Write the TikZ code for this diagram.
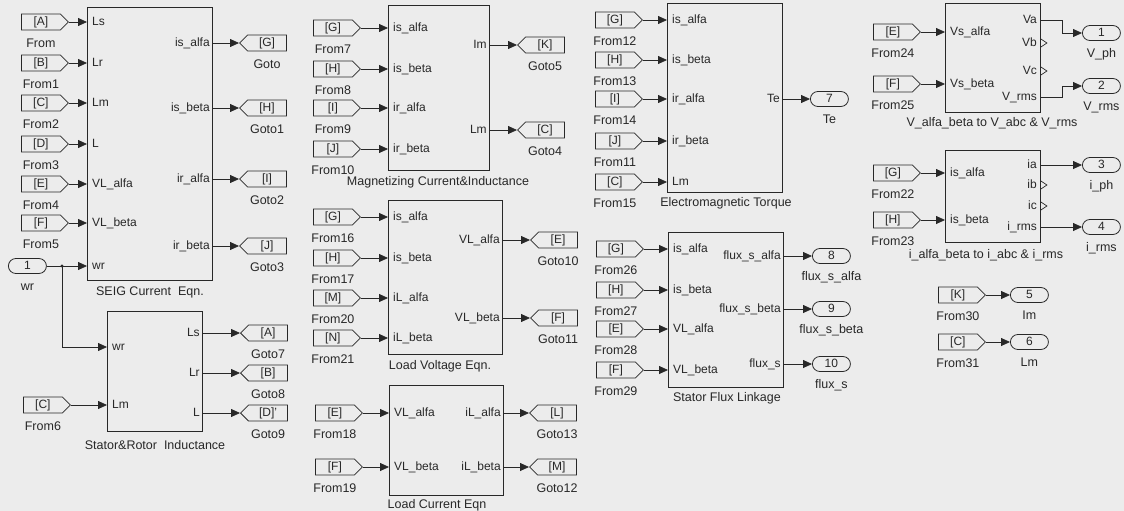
\documentclass[tikz,border=0pt]{standalone}
\usepackage{fontspec}
\setmainfont{Liberation Sans}
\usetikzlibrary{arrows.meta,shapes.symbols,shapes.misc}
\definecolor{bgcol}{RGB}{236,236,236}
\definecolor{ink}{RGB}{40,40,40}
\tikzset{
  txt/.style={font=\fontsize{12}{14}\selectfont, text=ink, inner sep=0pt, text height=8.5pt, text depth=2pt},
  lbl/.style={txt, font=\fontsize{12.5}{14}\selectfont},
  pin/.style={txt, anchor=west},
  pout/.style={txt, anchor=east},
  blk/.style={draw=ink, line width=0.9pt, anchor=north west, inner sep=0pt},
  frm/.style={signal, signal to=east, draw=ink, line width=0.8pt, txt, inner sep=1pt,
    minimum width=47pt, minimum height=16pt, anchor=west, label={[lbl, yshift=-8pt]below:#1}},
  gto/.style={signal, signal to=west, draw=ink, line width=0.8pt, txt, inner sep=1pt,
    minimum width=47pt, minimum height=16pt, anchor=west, label={[lbl, yshift=-8pt]below:#1}},
  oport/.style={rounded rectangle, draw=ink, line width=0.8pt, txt, inner sep=1pt,
    minimum width=40pt, minimum height=15pt, anchor=west, label={[lbl, yshift=-8pt]below:#1}},
  sig/.style={draw=ink, line width=0.8pt, -{Triangle[length=9pt,width=8pt]}},
  nc/.style={draw=ink, line width=0.7pt}
}
\begin{document}
\begin{tikzpicture}[x=1pt,y=-1pt]
  \fill[bgcol] (0,0) rectangle (1124,511);
  \useasboundingbox (0,0) rectangle (1124,511);

  % SEIG current equations
  \node[blk, minimum width=125pt, minimum height=273pt] (seig) at (87,7) {};
  \node[lbl] at (150,292) {SEIG Current\ \ Eqn.};
  \foreach \nm/\lb/\tg/\y/\pn in {fr0/From/A/22/Ls, fr1/From1/B/63/Lr, fr2/From2/C/103/Lm,
      fr3/From3/D/144/L, fr4/From4/E/184/VL\_alfa, fr5/From5/F/223/VL\_beta}{
    \node[frm=\lb] (\nm) at (21,\y) {[\tg]};
    \node[pin] at ([xshift=5pt]seig.west |- \nm) {\pn};
    \draw[sig] (\nm.east) -- (\nm.east -| seig.west);
  }
  \foreach \nm/\lb/\tg/\y/\pn in {gt0/Goto/G/43/is\_alfa, gt1/Goto1/H/108/is\_beta,
      gt2/Goto2/I/179/ir\_alfa, gt3/Goto3/J/246/ir\_beta}{
    \node[gto=\lb] (\nm) at (239,\y) {[\tg]};
    \node[pout] at ([xshift=-3pt]seig.east |- \nm) {\pn};
    \draw[sig] (\nm.west -| seig.east) -- (\nm.west);
  }
  \node[oport=wr] (ip1) at (8,266) {1};
  \node[pin] at ([xshift=5pt]seig.west |- ip1) {wr};
  \draw[sig] (ip1.east) -- (ip1.east -| seig.west);
  \coordinate (jwr) at (62,266);
  \fill[ink] (jwr) circle (1.6pt);

  % stator and rotor inductance
  \node[blk, minimum width=95pt, minimum height=120pt] (sr) at (107,311) {};
  \node[lbl] at (155,446) {Stator\&Rotor\ \ Inductance};
  \node[pin] (srwr) at (112,347) {wr};
  \node[pin] (srlm) at (112,405) {Lm};
  \node[frm=From6] (fr6) at (23,405) {[C]};
  \draw[sig] (fr6.east) -- (srlm.west -| sr.west);
  \draw[sig] (jwr) |- (srwr.west -| sr.west);
  \foreach \nm/\lb/\tg/\y/\pn in {gt7/Goto7/{[A]}/333/Ls, gt8/Goto8/{[B]}/373/Lr, gt9/Goto9/{[D]'}/413/L}{
    \node[gto=\lb] (\nm) at (240,\y) {\tg};
    \node[pout] at ([xshift=-3pt]sr.east |- \nm) {\pn};
    \draw[sig] (\nm.west -| sr.east) -- (\nm.west);
  }

  % magnetizing current and inductance
  \node[blk, minimum width=101pt, minimum height=165pt] (mag) at (388,5) {};
  \node[lbl] at (438,182) {Magnetizing Current\&Inductance};
  \foreach \nm/\lb/\tg/\y/\pn in {fr7/From7/G/28/is\_alfa, fr8/From8/H/69/is\_beta,
      fr9/From9/I/108/ir\_alfa, fr10/From10/J/149/ir\_beta}{
    \node[frm=\lb] (\nm) at (313,\y) {[\tg]};
    \node[pin] at ([xshift=5pt]mag.west |- \nm) {\pn};
    \draw[sig] (\nm.east) -- (\nm.east -| mag.west);
  }
  \foreach \nm/\lb/\tg/\y/\pn in {gt5/Goto5/K/45/Im, gt4/Goto4/C/130/Lm}{
    \node[gto=\lb] (\nm) at (517,\y) {[\tg]};
    \node[pout] at ([xshift=-3pt]mag.east |- \nm) {\pn};
    \draw[sig] (\nm.west -| mag.east) -- (\nm.west);
  }

  % load voltage
  \node[blk, minimum width=114pt, minimum height=154pt] (lv) at (388,200) {};
  \node[lbl] at (440,366) {Load Voltage Eqn.};
  \foreach \nm/\lb/\tg/\y/\pn in {fr16/From16/G/217/is\_alfa, fr17/From17/H/258/is\_beta,
      fr20/From20/M/298/iL\_alfa, fr21/From21/N/338/iL\_beta}{
    \node[frm=\lb] (\nm) at (313,\y) {[\tg]};
    \node[pin] at ([xshift=5pt]lv.west |- \nm) {\pn};
    \draw[sig] (\nm.east) -- (\nm.east -| lv.west);
  }
  \foreach \nm/\lb/\tg/\y/\pn in {gt10/Goto10/E/240/VL\_alfa, gt11/Goto11/F/318/VL\_beta}{
    \node[gto=\lb] (\nm) at (530,\y) {[\tg]};
    \node[pout] at ([xshift=-3pt]lv.east |- \nm) {\pn};
    \draw[sig] (\nm.west -| lv.east) -- (\nm.west);
  }

  % load current
  \node[blk, minimum width=114pt, minimum height=110pt] (lc) at (389,385) {};
  \node[lbl] at (437,505) {Load Current Eqn};
  \foreach \nm/\lb/\tg/\y/\pn in {fr18/From18/E/413/VL\_alfa, fr19/From19/F/467/VL\_beta}{
    \node[frm=\lb] (\nm) at (315,\y) {[\tg]};
    \node[pin] at ([xshift=5pt]lc.west |- \nm) {\pn};
    \draw[sig] (\nm.east) -- (\nm.east -| lc.west);
  }
  \foreach \nm/\lb/\tg/\y/\pn in {gt13/Goto13/L/413/iL\_alfa, gt12/Goto12/M/467/iL\_beta}{
    \node[gto=\lb] (\nm) at (529,\y) {[\tg]};
    \node[pout] at ([xshift=-3pt]lc.east |- \nm) {\pn};
    \draw[sig] (\nm.west -| lc.east) -- (\nm.west);
  }

  % electromagnetic torque
  \node[blk, minimum width=115pt, minimum height=189pt] (te) at (667,3) {};
  \node[lbl] at (726,203) {Electromagnetic Torque};
  \foreach \nm/\lb/\tg/\y/\pn in {fr12/From12/G/20/is\_alfa, fr13/From13/H/60/is\_beta,
      fr14/From14/I/99/ir\_alfa, fr11/From11/J/141/ir\_beta, fr15/From15/C/182/Lm}{
    \node[frm=\lb] (\nm) at (595,\y) {[\tg]};
    \node[pin] at ([xshift=5pt]te.west |- \nm) {\pn};
    \draw[sig] (\nm.east) -- (\nm.east -| te.west);
  }
  \node[oport=Te] (op7) at (810,99) {7};
  \node[pout] at ([xshift=-3pt]te.east |- op7) {Te};
  \draw[sig] (op7.west -| te.east) -- (op7.west);

  % stator flux linkage
  \node[blk, minimum width=115pt, minimum height=155pt] (fl) at (668,232) {};
  \node[lbl] at (727,398) {Stator Flux Linkage};
  \foreach \nm/\lb/\tg/\y/\pn in {fr26/From26/G/249/is\_alfa, fr27/From27/H/290/is\_beta,
      fr28/From28/E/329/VL\_alfa, fr29/From29/F/370/VL\_beta}{
    \node[frm=\lb] (\nm) at (596,\y) {[\tg]};
    \node[pin] at ([xshift=5pt]fl.west |- \nm) {\pn};
    \draw[sig] (\nm.east) -- (\nm.east -| fl.west);
  }
  \foreach \nm/\k/\y/\pn in {op8/8/256/flux\_s\_alfa, op9/9/309/flux\_s\_beta, op10/10/364/flux\_s}{
    \node[oport=\pn] (\nm) at (812,\y) {\k};
    \node[pout] at ([xshift=-3pt]fl.east |- \nm) {\pn};
    \draw[sig] (\nm.west -| fl.east) -- (\nm.west);
  }

  % alfa-beta to abc, voltage
  \node[blk, minimum width=95pt, minimum height=109pt] (vab) at (945,3) {};
  \node[lbl] at (992,123) {V\_alfa\_beta to V\_abc \& V\_rms};
  \foreach \nm/\lb/\tg/\y/\pn in {fr24/From24/E/32/Vs\_alfa, fr25/From25/F/84/Vs\_beta}{
    \node[frm=\lb] (\nm) at (873,\y) {[\tg]};
    \node[pin] at ([xshift=5pt]vab.west |- \nm) {\pn};
    \draw[sig] (\nm.east) -- (\nm.east -| vab.west);
  }
  \node[pout] (pVa) at (1037,20) {Va};
  \node[pout] (pVb) at (1037,43) {Vb};
  \node[pout] (pVc) at (1037,71) {Vc};
  \node[pout] (pVrms) at (1037,97) {V\_rms};
  \node[oport=V\_ph] (op1) at (1082,33) {1};
  \node[oport=V\_rms] (op2) at (1082,86) {2};
  \draw[sig] (pVa.east -| vab.east) -- ++(21,0) |- (op1.west);
  \draw[sig] (pVrms.east -| vab.east) -- ++(21,0) |- (op2.west);
  \foreach \p in {pVb,pVc}
    \draw[nc] (\p.east -| vab.east) ++(0,-4) -- ++(6,4) -- ++(-6,4);

  % alfa-beta to abc, current
  \node[blk, minimum width=95pt, minimum height=92pt] (iab) at (945,150) {};
  \node[lbl] at (986,255) {i\_alfa\_beta to i\_abc \& i\_rms};
  \foreach \nm/\lb/\tg/\y/\pn in {fr22/From22/G/173/is\_alfa, fr23/From23/H/220/is\_beta}{
    \node[frm=\lb] (\nm) at (873,\y) {[\tg]};
    \node[pin] at ([xshift=5pt]iab.west |- \nm) {\pn};
    \draw[sig] (\nm.east) -- (\nm.east -| iab.west);
  }
  \node[pout] (pia) at (1037,165) {ia};
  \node[pout] (pib) at (1037,185) {ib};
  \node[pout] (pic) at (1037,206) {ic};
  \node[pout] (pirms) at (1037,227) {i\_rms};
  \node[oport=i\_ph] (op3) at (1082,165) {3};
  \node[oport=i\_rms] (op4) at (1082,227) {4};
  \draw[sig] (pia.east -| iab.east) -- (op3.west);
  \draw[sig] (pirms.east -| iab.east) -- (op4.west);
  \foreach \p in {pib,pic}
    \draw[nc] (\p.east -| iab.east) ++(0,-4) -- ++(6,4) -- ++(-6,4);

  % magnetizing outputs
  \node[frm=From30] (fr30) at (938,295) {[K]};
  \node[oport=Im] (op5) at (1010,295) {5};
  \draw[sig] (fr30.east) -- (op5.west);
  \node[frm=From31] (fr31) at (938,342) {[C]};
  \node[oport=Lm] (op6) at (1010,342) {6};
  \draw[sig] (fr31.east) -- (op6.west);
\end{tikzpicture}
\end{document}
